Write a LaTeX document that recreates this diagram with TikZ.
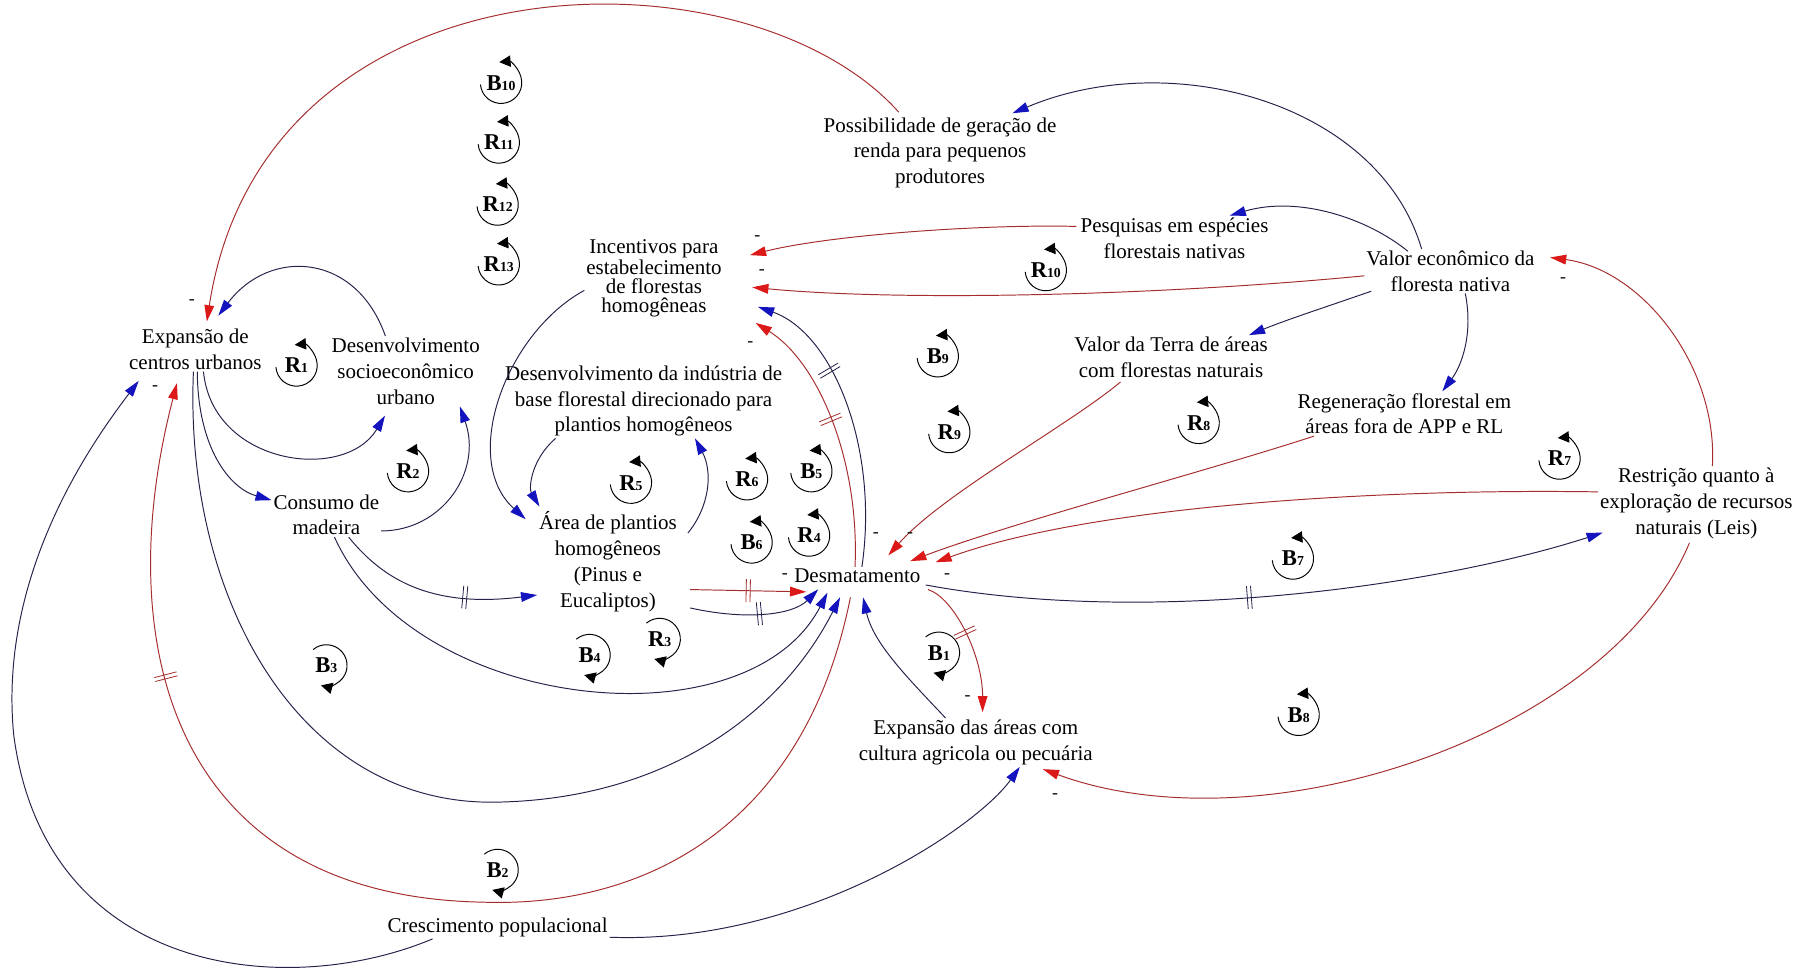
\documentclass[tikz,border=0pt]{standalone}
\usepackage{fontspec}
\setmainfont{Liberation Serif}
\usepackage{tikz}
\usetikzlibrary{arrows.meta, calc}
\definecolor{linkdark}{RGB}{35,35,75}
\definecolor{linkred}{RGB}{165,45,45}
\definecolor{tipblue}{RGB}{20,20,190}
\definecolor{tipred}{RGB}{220,25,25}
\newcommand{\bars}{\rule[-.25cm]{.5pt}{.5cm}\hspace{2pt}\rule[-.25cm]{.5pt}{.5cm}}

\begin{document}
\begin{tikzpicture}[x=0.025cm, y=-0.025cm,
    every node/.style={font=\fontsize{13}{16}\selectfont, inner sep=1pt, align=center},
    plink/.style={draw=linkdark, line width=0.6pt, -{Triangle[length=10pt,width=6pt,color=tipblue]}},
    nlink/.style={draw=linkred, line width=0.6pt, -{Triangle[length=10pt,width=6pt,color=tipred]}},
    dly/.style={sloped, inner sep=0pt},
    sgn/.style={font=\fontsize{11}{11}\selectfont, inner sep=0pt},
    loopnum/.style={font=\fontsize{14}{16}\selectfont\bfseries},
    looparc/.style={draw=black, line width=0.6pt, -{Triangle[length=7pt,width=7pt]}}]
  \path[use as bounding box, fill=white] (0,0) rectangle (1568,842);

  % variaveis
  \node (exp) at (170,304) {Expansão de\\centros urbanos};
  \node (dsu) at (353,323) {Desenvolvimento\\socioeconômico\\urbano};
  \node (cons) at (284,448) {Consumo de\\madeira};
  \node[font=\fontsize{13}{11.7}\selectfont] (inc) at (569,242)
    {Incentivos para\\estabelecimento\\de florestas\\homogêneas};
  \node (din) at (560,349)
    {Desenvolvimento da indústria de\\base florestal direcionado para\\plantios homogêneos};
  \node (area) at (529,489) {Área de plantios\\homogêneos\\(Pinus e\\Eucaliptos)};
  \node (desm) at (746,501) {Desmatamento};
  \node (exag) at (849,646) {Expansão das áreas com\\cultura agricola ou pecuária};
  \node (cres) at (433,807) {Crescimento populacional};
  \node (poss) at (818,133) {Possibilidade de geração de\\renda para pequenos\\produtores};
  \node (pesq) at (1022,207) {Pesquisas em espécies\\florestais nativas};
  \node (valor) at (1262,236) {Valor econômico da\\floresta nativa};
  \node (vterra) at (1019,311) {Valor da Terra de áreas\\com florestas naturais};
  \node (regen) at (1222,360) {Regeneração florestal em\\áreas fora de APP e RL};
  \node (restr) at (1476,438) {Restrição quanto à\\exploração de recursos\\naturais (Leis)};

  % lacos
  \foreach \ltr/\nb/\px/\py in {B/10/436/72, R/11/434/124, R/12/433/178, R/13/434/230,
      R/1/258/318, R/2/355/410, R/5/549/420, R/6/650/417, B/5/706/410, B/6/654/472,
      R/4/704/466, B/9/816/310, R/9/826/376, R/10/910/235, R/8/1043/368, R/7/1357/399,
      B/7/1125/486, B/8/1130/622}{
    \node[loopnum] (lp\ltr\nb) at (\px,\py) {\ltr{\fontsize{8.5}{8.5}\selectfont\nb}};
    \draw[looparc] ($(lp\ltr\nb)+(185:0.45cm)$) arc[start angle=185, end angle=455, radius=0.45cm];
  }
  \foreach \ltr/\nb/\px/\py in {R/3/574/556, B/4/513/570, B/3/284/579, B/1/817/568, B/2/433/757}{
    \node[loopnum] (lp\ltr\nb) at (\px,\py) {\ltr{\fontsize{8.5}{8.5}\selectfont\nb}};
    \draw[looparc] ($(lp\ltr\nb)+(130:0.45cm)$) arc[start angle=130, end angle=-105, radius=0.45cm];
  }

  % ligacoes do lado esquerdo
  \draw[nlink] ($(poss.north)+(-36,-3)$) .. controls (650,-50) and (230,-45) .. ($(exp.north)+(10,-5)$);
  \draw[plink] (dsu.120) .. controls (310,220) and (235,215) .. ($(exp.north)+(20,-10)$);
  \draw[plink] (exp.-70) .. controls (185,405) and (300,420) .. ($(dsu.south)+(-18,8)$);
  \draw[plink] (exp.-85) .. controls (172,390) and (200,425) .. (cons.165);
  \draw[plink] ($(cons.east)+(0,14)$) .. controls (385,462) and (420,410) .. (dsu.-33);
  \draw[plink] (cons.-45) .. controls (330,500) and (370,530) .. (area.205)
    node[pos=.75, dly, text=linkdark] {\bars};
  \draw[plink] (cres.190) .. controls (250,870) and (40,850) .. (12,640)
    .. controls (-2,500) and (80,385) .. ($(exp.south west)+(10,8)$);
  \draw[plink] (cres.-5) .. controls (700,822) and (850,720) .. (exag.-29);
  \draw[nlink] ($(desm.south)+(-6,11)$) .. controls (700,720) and (560,790) .. (420,785)
    .. controls (150,780) and (95,560) .. ($(exp.south)+(-16,10)$)
    node[pos=.6, dly, text=linkred] {\bars};
  \draw[plink] (exp.-95) .. controls (160,520) and (260,700) .. (430,698)
    .. controls (580,696) and (680,620) .. ($(desm.south)+(-15,11)$);
  \draw[plink] (cons.-70) .. controls (360,620) and (650,650) .. ($(desm.south)+(-26,7)$);

  % plantios e incentivos
  \draw[nlink] ($(area.east)+(10,24)$) -- ($(desm.west)+(12,14)$)
    node[pos=.5, dly, text=linkred] {\bars};
  \draw[plink] ($(area.east)+(10,40)$) .. controls (650,540) and (690,535) .. ($(desm.south)+(-34,4)$)
    node[pos=.45, dly, text=linkdark] {\bars};
  \draw[plink] (inc.190) .. controls (440,290) and (400,400) .. ($(area.north west)+(-10,8)$);
  \draw[plink] (din.-157) .. controls (462,400) and (460,425) .. ($(area.north west)+(2,-3)$);
  \draw[plink] ($(area.north east)+(8,20)$) .. controls (618,440) and (620,410) .. (din.-36);
  \draw[plink] ($(desm.north)+(4,0)$) .. controls (765,390) and (725,290) .. ($(inc.east)+(30,25)$)
    node[pos=.62, dly, text=linkdark] {\bars};
  \draw[nlink] ($(desm.north)+(-2,0)$) .. controls (748,400) and (712,315) .. ($(inc.east)+(28,39)$)
    node[pos=.5, dly, text=linkred] {\bars};

  % desmatamento e lado direito
  \draw[plink] (exag.141) .. controls (790,590) and (760,560) .. ($(desm.south)+(5,11)$);
  \draw[nlink] ($(desm.east)+(5,12)$) .. controls (830,520) and (855,570) .. ($(exag.north)+(6,-5)$)
    node[pos=.5, dly, text=linkred] {\bars};
  \draw[plink] ($(desm.east)+(3,8)$) .. controls (1000,545) and (1250,510) .. ($(restr.south west)+(4,-7)$)
    node[pos=.45, dly, text=linkdark] {\bars};
  \draw[nlink] ($(restr.west)+(0,-10)$) .. controls (1200,425) and (950,440) .. ($(desm.north)+(68,-4)$);
  \draw[nlink] ($(regen.south west)+(16,0)$) .. controls (1050,410) and (880,455) .. ($(desm.north)+(46,-5)$);
  \draw[nlink] ($(vterra.south)+(-44,2)$) .. controls (930,370) and (820,430) .. ($(desm.north)+(27,-10)$);
  \draw[nlink] ($(restr.north)+(14,0)$) .. controls (1495,320) and (1430,235) .. ($(valor.east)+(12,-12)$);
  \draw[nlink] ($(restr.south)+(-6,2)$) .. controls (1400,640) and (1100,740) .. ($(exag.south east)+(-45,2)$);
  \draw[plink] ($(valor.north)+(-25,0)$) .. controls (1200,90) and (1020,40) .. ($(poss.north east)+(-40,-2)$);
  \draw[plink] ($(valor.north)+(-37,2)$) .. controls (1190,190) and (1130,170) .. (pesq.22);
  \draw[plink] ($(valor.south west)+(6,-2)$) .. controls (1160,265) and (1120,278) .. ($(vterra.north east)+(-18,0)$);
  \draw[plink] ($(valor.south)+(13,0)$) .. controls (1282,290) and (1272,318) .. ($(regen.north)+(33,0)$);
  \draw[nlink] ($(pesq.west)+(-2,-10)$) .. controls (850,195) and (720,205) .. ($(inc.east)+(23,-20)$);
  \draw[nlink] ($(valor.west)+(0,4)$) .. controls (1000,258) and (780,262) .. ($(inc.east)+(25,8)$);

  % sinais negativos
  \foreach \px/\py [count=\i] in {167/263, 135/338, 659/207, 663/237, 653/299, 683/501,
      824/501, 762/466, 792/466, 842/607, 918/693, 1360/244}{
    \node[sgn] (sg\i) at (\px,\py) {-};
  }
\end{tikzpicture}
\end{document}
